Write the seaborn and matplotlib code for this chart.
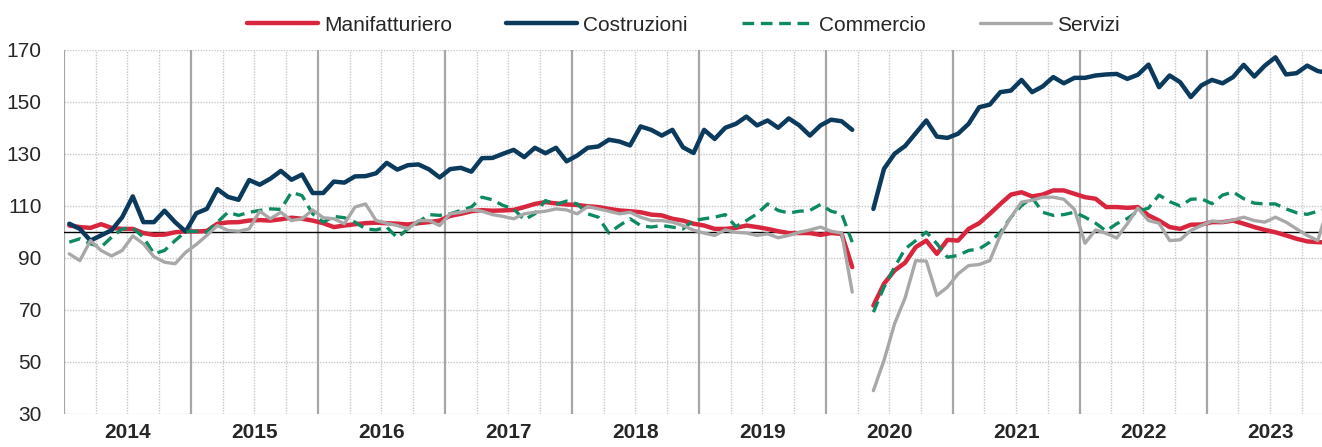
import numpy as np
import pandas as pd
import matplotlib
matplotlib.use('Agg')
import matplotlib.pyplot as plt
from matplotlib.lines import Line2D
import seaborn as sns

# monthly indices, Jan 2014 - Dec 2023 (Apr 2020 missing)
anni = [2014, 2015, 2016, 2017, 2018, 2019, 2020, 2021, 2022, 2023]

manifatturiero = [
    102.3, 101.7, 101.4, 102.8, 101.4, 101.0, 101.0, 99.4, 98.7, 98.8, 99.7, 100.1,
    100.0, 100.2, 103.0, 103.5, 103.6, 104.2, 104.4, 104.2, 104.7, 105.3, 104.9, 104.2,
    103.2, 101.7, 102.3, 102.8, 103.2, 103.4, 103.2, 103.0, 102.7, 103.2, 103.6, 104.2,
    106.0, 106.8, 107.8, 108.2, 108.0, 108.1, 108.3, 109.4, 110.6, 111.3, 110.8, 110.4,
    110.2, 109.7, 109.4, 108.7, 108.1, 107.8, 107.4, 106.5, 106.2, 104.9, 104.2, 103.0,
    102.3, 101.0, 101.0, 101.4, 102.3, 101.7, 101.0, 100.1, 99.4, 99.4, 99.4, 98.7,
    99.4, 99.1, 86.3, np.nan, 71.5, 79.9, 85.0, 88.0, 94.0, 96.5, 91.4, 96.8,
    96.5, 101.0, 103.2, 106.8, 110.6, 114.2, 115.1, 113.5, 114.2, 115.8, 115.8, 114.5,
    113.2, 112.6, 109.4, 109.4, 109.1, 109.4, 106.2, 104.2, 101.7, 101.0, 102.6, 102.7,
    103.6, 103.6, 104.2, 103.0, 101.7, 100.6, 99.7, 98.5, 97.2, 96.2, 95.9, 95.8,
]

costruzioni = [
    103.0, 101.0, 96.5, 98.5, 100.5, 105.5, 113.5, 103.6, 103.6, 108.0, 103.6, 100.0,
    107.0, 108.7, 116.3, 113.3, 112.2, 119.8, 118.0, 120.3, 123.3, 119.9, 121.9, 114.8,
    114.8, 119.2, 118.8, 121.2, 121.3, 122.4, 126.4, 123.8, 125.5, 125.8, 123.9, 120.8,
    124.0, 124.5, 123.0, 128.2, 128.3, 129.9, 131.4, 128.6, 132.2, 130.1, 132.2, 127.0,
    129.2, 132.2, 132.7, 135.3, 134.6, 133.1, 140.4, 139.1, 136.9, 139.1, 132.4, 130.2,
    139.1, 135.6, 139.9, 141.4, 144.2, 140.8, 142.7, 139.9, 143.5, 140.8, 136.9, 140.8,
    143.0, 142.4, 139.1, np.nan, 108.7, 124.1, 129.9, 132.9, 137.8, 142.7, 136.5, 136.0,
    137.6, 141.4, 147.8, 148.8, 153.6, 154.2, 158.3, 153.6, 155.8, 159.4, 157.0, 159.1,
    159.1, 160.0, 160.4, 160.6, 158.7, 160.3, 164.2, 155.5, 160.0, 157.4, 151.7, 156.2,
    158.3, 157.0, 159.4, 164.1, 159.6, 163.8, 167.0, 160.4, 160.9, 163.8, 161.7, 161.0,
]

commercio = [
    95.9, 97.2, 95.3, 94.0, 97.8, 101.0, 101.4, 97.8, 91.4, 92.7, 96.5, 100.0,
    100.1, 99.7, 103.6, 107.4, 106.2, 107.4, 108.1, 108.7, 108.5, 115.1, 113.8, 106.8,
    103.6, 105.8, 105.3, 103.6, 101.0, 100.6, 101.7, 97.6, 101.0, 103.6, 106.5, 106.2,
    106.8, 108.1, 109.4, 113.2, 112.2, 110.0, 108.7, 104.5, 106.8, 111.9, 110.4, 111.7,
    110.6, 106.8, 105.5, 99.4, 102.3, 104.9, 102.3, 101.7, 102.3, 101.7, 101.0, 104.2,
    104.9, 105.5, 106.5, 101.9, 104.2, 106.8, 110.6, 108.1, 107.1, 107.8, 108.1, 110.4,
    107.8, 106.8, 95.9, np.nan, 69.0, 78.6, 86.3, 93.3, 96.5, 99.8, 95.3, 90.1,
    90.8, 92.7, 93.3, 95.9, 99.7, 105.5, 110.0, 113.0, 107.4, 106.2, 106.5, 107.4,
    105.5, 103.2, 100.2, 103.0, 105.0, 107.8, 109.0, 114.0, 111.5, 109.8, 112.4, 112.6,
    110.7, 114.0, 115.2, 112.6, 110.9, 110.6, 110.6, 108.7, 107.2, 106.6, 107.8, 108.5,
]

servizi = [
    91.4, 88.8, 96.5, 92.7, 90.6, 92.7, 98.3, 95.3, 90.3, 88.2, 87.6, 92.0,
    95.0, 98.5, 102.3, 100.4, 100.1, 101.0, 107.8, 104.9, 107.4, 104.2, 104.9, 108.3,
    105.3, 104.9, 103.0, 109.4, 110.6, 104.2, 103.2, 102.3, 101.0, 104.2, 104.2, 102.3,
    106.8, 107.4, 108.3, 107.8, 106.5, 105.8, 104.9, 106.8, 107.4, 107.8, 108.7, 108.3,
    106.8, 109.6, 108.7, 107.8, 106.8, 107.4, 105.5, 104.2, 104.2, 103.6, 102.3, 100.5,
    99.4, 98.5, 100.6, 99.7, 99.4, 98.5, 99.1, 97.6, 98.5, 99.7, 100.6, 101.7,
    100.1, 99.4, 76.7, np.nan, 38.8, 50.4, 64.5, 74.5, 88.8, 88.6, 75.4, 78.6,
    83.7, 86.9, 87.3, 88.8, 98.5, 105.5, 111.3, 112.0, 113.2, 113.2, 112.4, 108.5,
    95.5, 100.6, 99.3, 97.5, 103.0, 109.0, 104.2, 103.2, 96.5, 96.8, 100.4, 102.3,
    104.0, 103.6, 104.4, 105.5, 104.2, 103.6, 105.5, 103.6, 101.0, 98.5, 96.5, 110.0,
]

serie = ['Manifatturiero', 'Costruzioni', 'Commercio', 'Servizi']
valori = [manifatturiero, costruzioni, commercio, servizi]
colori = ['#d7263d', '#0b3a5c', '#0e8a63', '#a8a8a8']
spessori = [3.2, 3.2, 2.4, 2.4]
tratti = ['-', '-', (0, (3.5, 2)), '-']

frames = []
for nome, vals in zip(serie, valori):
    d = pd.DataFrame({'mese': np.arange(len(vals)), 'valore': vals, 'serie': nome})
    d['tratto'] = d['valore'].isna().cumsum()
    frames.append(d)
df = pd.concat(frames).dropna()

sns.set_theme(style='white')
plt.rcParams['font.family'] = ['Liberation Sans', 'DejaVu Sans']

fig = plt.figure(figsize=(13.22, 4.47), dpi=100)
ax = fig.add_axes([64 / 1322, 1 - 413.5 / 447, 1 - 64 / 1322, 364 / 447])

# grid: dotted horizontal + quarters, solid year boundaries
n_mesi = len(manifatturiero)
for q in range(0, n_mesi + 1, 3):
    if q % 12:
        ax.axvline(q - 0.5, color='#c8c8c8', lw=1, ls=(0, (1, 1)), zorder=0)
for k in range(len(anni) + 1):
    ax.axvline(12 * k - 0.5, color='#a6a6a6', lw=1.6, zorder=0.5)
for y in range(30, 171, 20):
    ax.axhline(y, color='#c8c8c8', lw=1, ls=(0, (1, 1)), zorder=0)
ax.axhline(100, color='black', lw=1, zorder=1)

for nome, col, lw, ls in zip(serie, colori, spessori, tratti):
    sns.lineplot(data=df[df['serie'] == nome], x='mese', y='valore', units='tratto',
                 estimator=None, color=col, lw=lw, linestyle=ls, legend=False,
                 ax=ax, zorder=3)

ax.set_xlim(-0.5, 118.4)
ax.set_ylim(30, 170)
ax.set_yticks(range(30, 171, 20))
ax.set_xticks([12 * k + 5.5 for k in range(len(anni))])
ax.set_xticklabels([str(a) for a in anni], fontsize=15, fontweight='bold')
ax.tick_params(axis='x', length=0, pad=7)
ax.tick_params(axis='y', length=0, pad=16, labelsize=15)
ax.set_xlabel('')
ax.set_ylabel('')
for s in ax.spines.values():
    s.set_visible(False)

handles = [Line2D([0], [0], color=c, lw=w, linestyle=l) for c, w, l in zip(colori, spessori, tratti)]
fig.legend(handles, serie, loc='center', bbox_to_anchor=(0.517, 0.944), ncol=4,
           frameon=False, fontsize=15, handlelength=3.4, handletextpad=0.3,
           columnspacing=2.6)

fig.savefig('out.png', dpi=100)
